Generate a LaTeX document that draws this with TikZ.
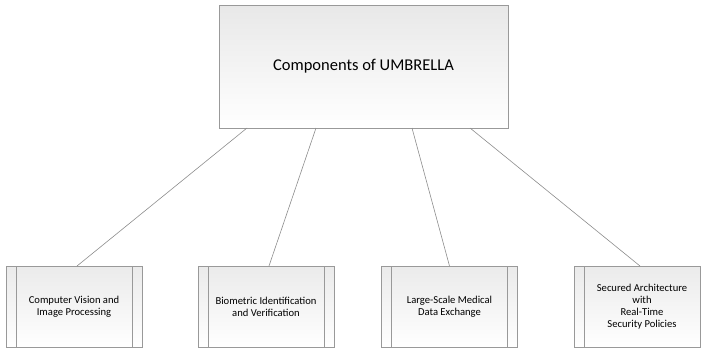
\documentclass[tikz,border=0pt]{standalone}
\usepackage{fontspec}
\setmainfont{Carlito}
\tikzset{
  mainbox/.style={draw=black!40, line width=0.9pt, top color=black!9, bottom color=white,
    minimum width=289pt, minimum height=123pt, inner sep=0pt, outer sep=0pt,
    font=\fontsize{16.5}{20}\selectfont},
  compbox/.style={draw=black!40, line width=0.9pt, top color=black!8, bottom color=white,
    minimum width=136pt, minimum height=81pt, inner sep=0pt, outer sep=0pt,
    align=center, font=\fontsize{10.6}{12.2}\selectfont},
  strip/.style={draw=black!40, line width=0.9pt},
  link/.style={draw=black!45, line width=0.6pt}
}
\begin{document}
\begin{tikzpicture}[x=1pt,y=-1pt]
  \useasboundingbox (0,0) rectangle (701,348);
  % Boxes
  \node[mainbox] (top) at (363.5,66.5) {Components of UMBRELLA};
  \node[compbox] (c1) at (74,306.5) {Computer Vision and\\Image Processing};
  \node[compbox] (c2) at (266,306.5) {Biometric Identification\\and Verification};
  \node[compbox] (c3) at (449.5,306.5) {Large-Scale Medical\\Data Exchange};
  \node[compbox] (c4) at (642,306.5) {Secured Architecture\\with\\Real-Time\\Security Policies};
  % Side strips
  \foreach \b in {c1,c2,c3,c4} {
    \draw[strip] ([xshift=10pt]\b.north west) -- ([xshift=10pt]\b.south west);
    \draw[strip] ([xshift=-10pt]\b.north east) -- ([xshift=-10pt]\b.south east);
  }
  % Links
  \draw[link] ([xshift=28pt]top.south west) -- ([xshift=3pt]c1.north);
  \draw[link] ([xshift=97pt]top.south west) -- ([xshift=3pt]c2.north);
  \draw[link] ([xshift=193pt]top.south west) -- (c3.north);
  \draw[link] ([xshift=251pt]top.south west) -- ([xshift=-2pt]c4.north);
\end{tikzpicture}
\end{document}
